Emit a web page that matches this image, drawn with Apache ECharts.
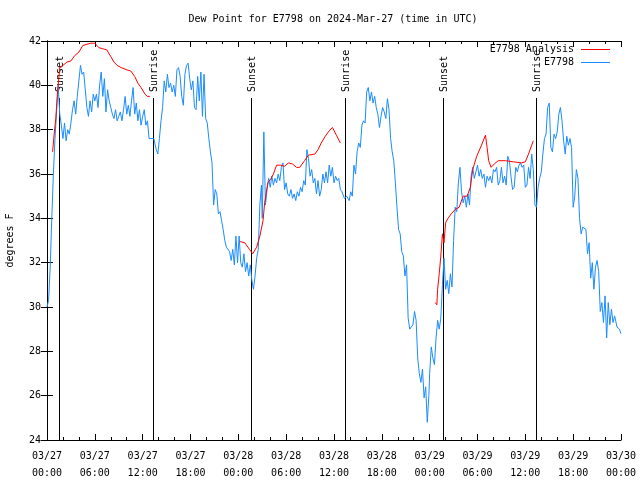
<!DOCTYPE html>
<html>
<head>
<meta charset="utf-8">
<script src="https://cdn.jsdelivr.net/npm/echarts@6/dist/echarts.min.js"></script>
<style>html,body{margin:0;padding:0;background:#fff}#c{width:640px;height:480px}</style>
</head>
<body>
<div id="c"></div>
<script>
// x values are hours since 2024-03-27 00:00 UTC
const tickLabels = ['03/27\n00:00','03/27\n06:00','03/27\n12:00','03/27\n18:00','03/28\n00:00','03/28\n06:00','03/28\n12:00','03/28\n18:00','03/29\n00:00','03/29\n06:00','03/29\n12:00','03/29\n18:00','03/30\n00:00'];
const eventTimes = [1.5, 13.3, 25.6, 37.4, 49.7, 61.35];
const eventNames = ['Sunset','Sunrise','Sunset','Sunrise','Sunset','Sunrise'];

const obsDay1 = [[0,30.0],[0.2,30.3],[0.4,31.8],[0.6,34.0],[0.8,36.0],[1.0,37.6],[1.2,38.8],[1.4,40.0],[1.6,38.7],[1.8,38.2],[2.0,37.6],[2.2,38.3],[2.4,37.5],[2.6,38.0],[2.8,37.8],[3.0,38.3],[3.2,38.9],[3.4,39.3],[3.6,38.7],[3.8,39.5],[4.0,40.2],[4.2,40.9],[4.4,40.5],[4.6,40.6],[4.8,39.8],[5.0,39.0],[5.2,38.6],[5.4,39.3],[5.6,38.8],[5.8,39.6],[6.0,39.3],[6.2,39.6],[6.4,39.0],[6.6,40.0],[6.8,40.6],[7.0,39.5],[7.2,40.3],[7.4,38.8],[7.6,39.8],[7.8,39.3],[8.0,39.0],[8.2,38.7],[8.4,38.5],[8.6,38.9],[8.8,38.4],[9.0,38.6],[9.2,38.8],[9.4,38.4],[9.6,38.9],[9.8,39.5],[10.0,38.7],[10.2,39.1],[10.4,38.6],[10.6,39.3],[10.8,39.9],[11.0,38.7],[11.2,39.2],[11.4,38.4],[11.6,38.9],[11.8,38.2],[12.0,38.6],[12.2,38.9],[12.4,38.2],[12.6,38.4],[12.8,37.6],[13.0,37.6],[13.4,37.6],[13.7,37.1],[13.9,36.9],[14.1,37.6],[14.3,38.4],[14.5,39.0],[14.7,40.2],[14.9,39.7],[15.1,40.5],[15.3,39.9],[15.5,40.1],[15.7,39.7],[15.9,40.0],[16.1,39.5],[16.3,40.7],[16.5,40.8],[16.7,40.4],[16.9,39.5],[17.1,39.1],[17.3,40.5],[17.5,40.9],[17.7,41.0],[17.9,40.3],[18.1,39.8],[18.3,40.2],[18.5,39.0],[18.7,38.9],[18.9,40.4],[19.1,39.3],[19.3,40.6],[19.5,38.6],[19.7,40.5],[19.9,38.5],[20.1,38.3],[20.3,37.6],[20.5,37.0],[20.7,36.5],[20.9,34.6],[21.1,35.3],[21.3,35.1],[21.5,34.2],[21.7,34.3],[21.9,33.9],[22.1,33.5],[22.3,33.0],[22.5,32.7],[22.7,32.7],[22.9,32.5],[23.1,32.1],[23.3,32.6],[23.5,31.9],[23.7,33.2],[23.9,32.0]];
const obsDay2 = [[24.1,33.2],[24.3,32.0],[24.5,31.8],[24.7,32.4],[24.9,31.6],[25.1,32.0],[25.3,31.4],[25.5,31.9],[25.7,31.2],[25.9,30.8],[26.1,31.4],[26.3,32.2],[26.5,32.6],[26.7,34.6],[26.9,35.5],[27.0,34.0],[27.2,37.9],[27.4,34.6],[27.6,35.3],[27.8,35.8],[28.0,35.4],[28.2,35.9],[28.4,35.5],[28.6,35.8],[28.8,35.6],[29.0,36.0],[29.2,35.7],[29.4,36.3],[29.6,36.5],[29.8,35.3],[30.0,35.6],[30.2,35.1],[30.4,35.0],[30.6,35.3],[30.8,34.9],[31.0,35.1],[31.2,34.8],[31.4,35.2],[31.6,35.0],[31.8,35.4],[32.0,35.2],[32.2,35.7],[32.4,35.5],[32.6,37.1],[32.8,36.7],[33.0,35.9],[33.2,36.2],[33.4,35.6],[33.6,35.8],[33.8,35.1],[34.0,35.7],[34.2,35.0],[34.4,35.3],[34.6,36.0],[34.8,35.6],[35.0,36.1],[35.2,35.6],[35.4,36.4],[35.6,35.9],[35.8,36.3],[36.0,35.6],[36.2,35.9],[36.4,35.7],[36.6,35.8],[36.8,35.3],[37.0,35.2],[37.3,34.9],[37.6,35.0],[37.9,34.8],[38.1,35.2],[38.3,35.0],[38.5,36.4],[38.7,36.0],[38.9,37.0],[39.1,37.4],[39.3,37.2],[39.5,38.2],[39.7,38.4],[39.9,38.3],[40.1,39.7],[40.3,39.9],[40.5,39.3],[40.7,39.7],[40.9,39.2],[41.1,39.5],[41.3,39.0],[41.5,38.7],[41.7,38.1],[41.9,38.6],[42.1,39.0],[42.3,38.8],[42.5,38.5],[42.7,39.4],[42.9,38.9],[43.1,37.6],[43.3,37.0],[43.5,36.6],[43.7,35.6],[43.9,34.5],[44.1,33.5],[44.3,33.3],[44.5,32.5],[44.7,32.3],[44.9,31.4],[45.1,31.9],[45.3,29.5],[45.5,29.0],[45.7,29.0],[45.9,29.2],[46.1,29.8],[46.3,29.4],[46.5,27.7],[46.7,27.0],[46.9,26.6],[47.1,27.2],[47.3,25.9],[47.5,26.4],[47.7,24.8],[47.9,26.0]];
const obsDay3 = [[48.0,27.0],[48.2,28.2],[48.4,27.7],[48.6,27.4],[48.8,28.6],[49.0,29.4],[49.2,29.0],[49.4,29.5],[49.6,31.0],[49.8,32.2],[50.0,30.8],[50.2,31.2],[50.4,30.6],[50.6,31.5],[50.8,30.9],[51.0,33.0],[51.2,34.5],[51.4,34.3],[51.6,35.6],[51.8,36.3],[52.0,35.2],[52.2,34.7],[52.4,35.0],[52.6,34.5],[52.8,35.1],[53.0,34.6],[53.2,35.9],[53.4,36.3],[53.6,35.8],[53.8,36.1],[54.0,36.4],[54.2,35.9],[54.4,36.2],[54.6,35.8],[54.8,36.0],[55.0,35.4],[55.2,35.9],[55.4,35.7],[55.6,35.9],[55.8,35.6],[56.0,36.2],[56.2,36.1],[56.4,36.3],[56.6,35.5],[56.8,35.7],[57.0,36.3],[57.2,35.6],[57.4,35.9],[57.6,35.5],[57.8,36.8],[58.0,36.6],[58.2,35.9],[58.4,35.3],[58.6,35.4],[58.8,36.3],[59.0,36.1],[59.2,36.4],[59.4,36.5],[59.6,36.3],[59.8,36.4],[60.0,35.4],[60.2,35.5],[60.4,36.3],[60.6,35.8],[60.8,36.9],[61.0,36.2],[61.2,34.6],[61.4,34.5],[61.6,35.4],[61.8,35.8],[62.0,36.1],[62.2,36.9],[62.4,37.6],[62.6,37.8],[62.8,39.0],[63.0,39.2],[63.2,37.2],[63.4,37.0],[63.6,37.8],[63.8,37.6],[64.0,37.9],[64.2,38.7],[64.4,39.0],[64.6,38.4],[64.8,37.5],[65.0,36.9],[65.2,37.7],[65.4,37.3],[65.6,37.6],[65.8,37.2],[66.0,34.5],[66.2,35.0],[66.4,36.2],[66.6,35.8],[66.8,34.0],[67.0,33.3],[67.2,33.6],[67.4,33.6],[67.6,33.5],[67.8,32.4],[68.0,32.9],[68.2,31.3],[68.4,32.0],[68.6,30.8],[68.8,31.8],[69.0,32.1],[69.2,31.6],[69.4,29.8],[69.6,30.2],[69.8,29.3],[70.0,30.5],[70.2,28.6],[70.4,30.2],[70.6,29.2],[70.8,29.9],[71.0,29.3],[71.2,29.6],[71.5,29.1],[71.8,29.0],[72.0,28.8]];

const anaSeg1 = [[0.7,37.0],[0.9,37.8],[1.1,38.5],[1.3,39.6],[1.6,40.8],[2.0,40.9],[2.5,41.05],[3.0,41.1],[3.5,41.35],[4.0,41.5],[4.5,41.8],[5.0,41.85],[5.5,41.9],[6.0,41.9],[6.5,41.7],[7.0,41.65],[7.5,41.6],[8.0,41.3],[8.4,41.05],[8.8,40.9],[9.3,40.8],[10.0,40.7],[10.5,40.65],[11.0,40.4],[11.4,40.1],[11.8,39.9],[12.3,39.6],[12.6,39.5],[12.9,39.5]];
const anaSeg2 = [[24.2,32.95],[24.8,32.9],[25.4,32.6],[25.8,32.4],[26.3,32.7],[26.7,33.2],[27.1,33.9],[27.3,34.7],[27.7,35.6],[28.1,35.8],[28.4,36.0],[28.8,36.4],[29.3,36.4],[29.8,36.35],[30.3,36.5],[30.8,36.45],[31.3,36.3],[31.7,36.3],[32.3,36.6],[32.8,36.85],[33.6,36.9],[34.0,37.1],[34.4,37.4],[34.9,37.7],[35.3,37.9],[35.8,38.1],[36.3,37.75],[36.8,37.4]];
const anaSeg3 = [[48.7,30.2],[48.9,30.1],[49.0,30.8],[49.2,31.5],[49.4,32.3],[49.6,33.3],[49.8,32.9],[50.0,33.8],[50.3,34.0],[50.7,34.2],[51.2,34.4],[51.7,34.5],[52.2,35.0],[52.7,35.0],[53.1,35.4],[53.4,36.2],[53.9,36.8],[54.5,37.3],[55.0,37.75],[55.2,37.2],[55.4,36.6],[55.7,36.3],[56.1,36.45],[56.6,36.6],[57.5,36.6],[58.5,36.55],[59.5,36.5],[60.0,36.55],[60.4,36.9],[60.8,37.3],[61.0,37.5]];

const BLUE = '#1a8cff', RED = '#ff0000';
const FONT = 'DejaVu Sans Mono';
const LINE_TOP = 39.43;
const TITLE = 'Dew Point for E7798 on 2024-Mar-27 (time in UTC)';

const chart = echarts.init(document.getElementById('c'), null, {renderer: 'canvas'});
const xBase = {
  type: 'value', min: 0, max: 72, interval: 6,
  axisLine: {show: true, lineStyle: {color: '#000', width: 1}},
  axisTick: {show: true, inside: true, length: 6, lineStyle: {color: '#000'}},
  minorTick: {show: true, splitNumber: 3, length: 3, lineStyle: {color: '#000'}},
  splitLine: {show: false}
};
const yBase = {
  type: 'value', min: 24, max: 42, interval: 2,
  axisLine: {show: true, lineStyle: {color: '#000', width: 1}},
  axisTick: {show: true, inside: true, length: 6, lineStyle: {color: '#000'}},
  splitLine: {show: false}
};

const legendItems = [['E7798 Analysis', RED], ['E7798', BLUE]];
const graphics = [
  {type: 'text', x: 333, y: 19, style: {text: TITLE, font: '10px ' + FONT, fill: '#000', textAlign: 'center', textVerticalAlign: 'middle'}}
];
legendItems.forEach((it, i) => {
  const y = 49.5 + i * 13;
  graphics.push({type: 'text', x: 574, y: y, z: 10, style: {text: it[0], font: '10px ' + FONT, fill: '#000', textAlign: 'right', textVerticalAlign: 'middle'}});
  graphics.push({type: 'line', z: 10, shape: {x1: 581, y1: y, x2: 610, y2: y}, style: {stroke: it[1], lineWidth: 1}});
});

const option = {
  animation: false,
  backgroundColor: '#fff',
  grid: {left: 47, right: 19, top: 41, bottom: 40, containLabel: false, outerBoundsMode: 'none'},
  xAxis: [
    Object.assign({}, xBase, {position: 'bottom',
      axisLabel: {show: true, color: '#000', fontFamily: FONT, fontSize: 10, lineHeight: 17, margin: 8,
        formatter: v => tickLabels[Math.round(v / 6)] || ''}}),
    Object.assign({}, xBase, {position: 'top', axisLabel: {show: false}})
  ],
  yAxis: [
    Object.assign({}, yBase, {position: 'left',
      axisLabel: {show: true, color: '#000', fontFamily: FONT, fontSize: 10, margin: 6},
      name: 'degrees F', nameLocation: 'middle', nameGap: 32, nameRotate: 90,
      nameTextStyle: {color: '#000', fontFamily: FONT, fontSize: 10}}),
    Object.assign({}, yBase, {position: 'right', axisLabel: {show: false}})
  ],
  graphic: graphics,
  series: [
    {type: 'custom', xAxisIndex: 0, yAxisIndex: 0, z: 1,
      data: eventTimes.map(t => [t, LINE_TOP]),
      renderItem: function (params, api) {
        const b = api.coord([api.value(0), 24]);
        const t = api.coord([api.value(0), api.value(1)]);
        const px = Math.round(b[0]) + 0.5;
        return {type: 'group', children: [
          {type: 'line', shape: {x1: px, y1: b[1], x2: px, y2: Math.round(t[1])}, style: {stroke: '#000', lineWidth: 1}},
          {type: 'text', x: px + 1, y: t[1] - 6, rotation: Math.PI / 2,
            style: {text: eventNames[params.dataIndex], font: '10px ' + FONT, fill: '#000', textAlign: 'left', textVerticalAlign: 'middle'}}
        ]};
      }},
    {name: 'E7798 Analysis', type: 'line', data: anaSeg1, showSymbol: false, lineStyle: {color: RED, width: 1}, itemStyle: {color: RED}, z: 3},
    {name: 'E7798 Analysis', type: 'line', data: anaSeg2, showSymbol: false, lineStyle: {color: RED, width: 1}, itemStyle: {color: RED}, z: 3},
    {name: 'E7798 Analysis', type: 'line', data: anaSeg3, showSymbol: false, lineStyle: {color: RED, width: 1}, itemStyle: {color: RED}, z: 3},
    {name: 'E7798', type: 'line', data: obsDay1.concat(obsDay2, obsDay3), showSymbol: false, lineStyle: {color: BLUE, width: 1}, itemStyle: {color: BLUE}, z: 2}
  ]
};
chart.setOption(option);
</script>
</body>
</html>
